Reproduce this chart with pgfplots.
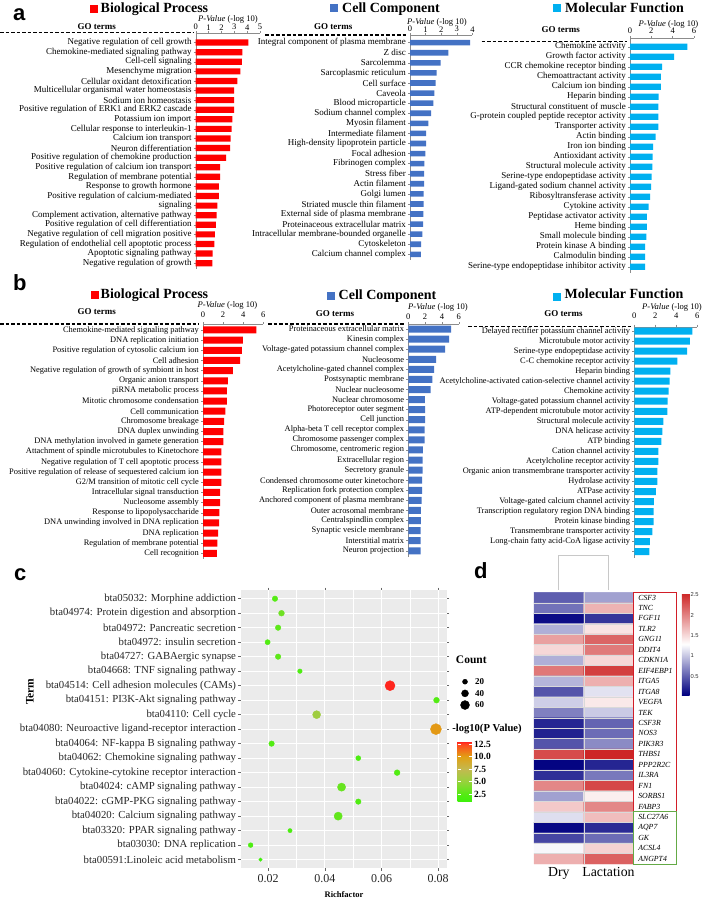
\documentclass[border=0pt]{standalone}
\usepackage{fontspec}
\setmainfont{Liberation Serif}
\setsansfont{Liberation Sans}
\usepackage{pgfplots}
\usepackage{pgfplotstable}
\pgfplotsset{compat=1.18}
\pgfplotsset{/pgf/number format/assume math mode=true}

\definecolor{bpred}{RGB}{255,0,0}
\definecolor{ccblue}{RGB}{68,114,196}
\definecolor{mfcyan}{RGB}{0,176,240}
\definecolor{axgray}{RGB}{140,140,140}
\definecolor{ggbg}{RGB}{235,235,235}
\definecolor{boxred}{RGB}{210,30,40}
\definecolor{boxgreen}{RGB}{100,170,70}
\definecolor{dendro}{RGB}{200,200,200}

\newcommand{\fs}[1]{\fontsize{#1}{#1}\selectfont}

\pgfplotsset{
  gopanel/.style={
    scale only axis, anchor=north west, y dir=reverse,
    axis x line*=top, axis y line*=left,
    axis line style={draw=axgray, line width=0.4pt},
    tick style={draw=axgray, line width=0.4pt},
    tick align=outside, major tick length=2pt,
    xmin=0,
    xticklabel style={font=\fs{8.5}, inner sep=0.8pt},
    yticklabel style={inner sep=2pt},
  }
}

% ---------- panel a data ----------
\pgfplotstableread[col sep=semicolon]{
label;val
Negative regulation of cell growth;4.09
Chemokine-mediated signaling pathway;3.63
Cell-cell signaling;3.60
Mesenchyme migration;3.47
Cellular oxidant detoxification;3.24
Multicellular organismal water homeostasis;2.99
Sodium ion homeostasis;2.98
Positive regulation of ERK1 and ERK2 cascade;2.98
Potassium ion import;2.85
Cellular response to interleukin-1;2.80
Calcium ion transport;2.72
Neuron differentiation;2.67
Positive regulation of chemokine production;2.36
Positive regulation of calcium ion transport;1.89
Regulation of membrane potential;1.89
Response to growth hormone;1.81
Positive regulation of calcium-mediated;1.81
signaling;1.68
Complement activation, alternative pathway;1.63
Positive regulation of cell differentiation;1.56
Negative regulation of cell migration positive;1.50
Regulation of endothelial cell apoptotic process;1.45
Apoptotic signaling pathway;1.32
Negative regulation of growth;1.29
}\aBP

\pgfplotstableread[col sep=semicolon]{
label;val
Integral component of plasma membrane;3.85
Z disc;2.46
Sarcolemma;1.97
Sarcoplasmic reticulum;1.71
Cell surface;1.64
Caveola;1.56
Blood microparticle;1.50
Sodium channel complex;1.35
Myosin filament;1.17
Intermediate filament;1.03
High-density lipoprotein particle;1.03
Focal adhesion;0.98
Fibrinogen complex;0.92
Stress fiber;0.90
Actin filament;0.90
Golgi lumen;0.88
Striated muscle thin filament;0.88
External side of plasma membrane;0.86
Proteinaceous extracellular matrix;0.84
Intracellular membrane-bounded organelle;0.80
Cytoskeleton;0.71
Calcium channel complex;0.69
}\aCC

\pgfplotstableread[col sep=semicolon]{
label;val
Chemokine activity;5.38
Growth factor activity;4.13
CCR chemokine receptor binding;3.00
Chemoattractant activity;2.90
Calcium ion binding;2.90
Heparin binding;2.69
Structural constituent of muscle;2.66
G-protein coupled peptide receptor activity;2.66
Transporter activity;2.66
Actin binding;2.41
Iron ion binding;2.16
Antioxidant activity;2.13
Structural molecule activity;2.10
Serine-type endopeptidase activity;2.03
Ligand-gated sodium channel activity;1.97
Ribosyltransferase activity;1.88
Cytokine activity;1.75
Peptidase activator activity;1.59
Heme binding;1.59
Small molecule binding;1.53
Protein kinase A binding;1.41
Calmodulin binding;1.41
Serine-type endopeptidase inhibitor activity;1.41
}\aMF

% ---------- panel b data ----------
\pgfplotstableread[col sep=semicolon]{
label;val
Chemokine-mediated signaling pathway;5.30
DNA replication initiation;3.97
Positive regulation of cytosolic calcium ion;3.87
Cell adhesion;3.70
Negative regulation of growth of symbiont in host;2.98
Organic anion transport;2.47
piRNA metabolic process;2.37
Mitotic chromosome condensation;2.37
Cell communication;2.23
Chromosome breakage;2.10
DNA duplex unwinding;2.03
DNA methylation involved in gamete generation;2.03
Attachment of spindle microtubules to Kinetochore;1.83
Negative regulation of T cell apoptotic process;1.83
Positive regulation of release of sequestered calcium ion;1.83
G2/M transition of mitotic cell cycle;1.83
Intracellular signal transduction;1.70
Nucleosome assembly;1.70
Response to lipopolysaccharide;1.63
DNA unwinding involved in DNA replication;1.60
DNA replication;1.50
Regulation of membrane potential;1.43
Cell recognition;1.37
}\bBP

\pgfplotstableread[col sep=semicolon]{
label;val
Proteinaceous extracellular matrix;5.10
Kinesin complex;4.85
Voltage-gated potassium channel complex;4.37
Nucleosome;3.30
Acetylcholine-gated channel complex;3.06
Postsynaptic membrane;2.86
Nuclear nucleosome;2.66
Nuclear chromosome;1.98
Photoreceptor outer segment;2.00
Cell junction;2.00
Alpha-beta T cell receptor complex;1.94
Chromosome passenger complex;1.94
Chromosome, centromeric region;1.74
Extracellular region;1.70
Secretory granule;1.70
Condensed chromosome outer kinetochore;1.66
Replication fork protection complex;1.66
Anchored component of plasma membrane;1.58
Outer acrosomal membrane;1.50
Centralspindlin complex;1.50
Synaptic vesicle membrane;1.46
Interstitial matrix;1.46
Neuron projection;1.46
}\bCC

\pgfplotstableread[col sep=semicolon]{
label;val
Delayed rectifier potassium channel activity;5.53
Microtubule motor activity;5.30
Serine-type endopeptidase activity;5.02
C-C chemokine receptor activity;4.10
Heparin binding;3.43
Acetylcholine-activated cation-selective channel activity;3.36
Chemokine activity;3.27
Voltage-gated potassium channel activity;3.17
ATP-dependent microtubule motor activity;3.14
Structural molecule activity;2.76
DNA helicase activity;2.67
ATP binding;2.57
Cation channel activity;2.29
Acetylcholine receptor activity;2.29
Organic anion transmembrane transporter activity;2.19
Hydrolase activity;2.19
ATPase activity;2.06
Voltage-gated calcium channel activity;1.87
Transcription regulatory region DNA binding;1.84
Protein kinase binding;1.84
Transmembrane transporter activity;1.71
Long-chain fatty acid-CoA ligase activity;1.49
{};1.43
}\bMF

% ---------- panel c data ----------
\pgfplotstableread[col sep=semicolon]{
label;rf;count;logp
bta05032: Morphine addiction;0.0224;25;2.5
bta04974: Protein digestion and absorption;0.0247;28;3.5
bta04972: Pancreatic secretion;0.0235;25;2.8
bta04972: insulin secretion;0.0198;22;2.3
bta04727: GABAergic synapse;0.0235;25;2.8
bta04668: TNF signaling pathway;0.0312;15;2.0
bta04514: Cell adhesion molecules (CAMs);0.0630;70;12.9
bta04151: PI3K-Akt signaling pathway;0.0794;28;2.4
bta04110: Cell cycle;0.0371;50;5.5
bta04080: Neuroactive ligand-receptor interaction;0.0792;80;10.2
bta04064: NF-kappa B signaling pathway;0.0212;25;2.3
bta04062: Chemokine signaling pathway;0.0518;20;2.0
bta04060: Cytokine-cytokine receptor interaction;0.0655;28;2.3
bta04024: cAMP signaling pathway;0.0459;52;3.2
bta04022: cGMP-PKG signaling pathway;0.0518;25;2.2
bta04020: Calcium signaling pathway;0.0447;52;3.0
bta03320: PPAR signaling pathway;0.0277;12;1.8
bta03030: DNA replication;0.0138;18;2.0
bta00591:Linoleic acid metabolism;0.0173;5;1.2
}\keggtbl

% ---------- panel d data ----------
\pgfplotstableread{
x y v
0 1 0.50
1 1 0.83
0 2 0.60
1 2 1.73
0 3 0.10
1 3 0.30
0 4 0.90
1 4 1.45
0 5 1.84
1 5 2.18
0 6 1.52
1 6 2.06
0 7 0.90
1 7 1.52
0 8 2.07
1 8 2.40
0 9 0.93
1 9 1.75
0 10 0.45
1 10 1.15
0 11 1.05
1 11 1.42
0 12 0.67
1 12 1.03
0 13 0.22
1 13 0.53
0 14 0.20
1 14 0.57
0 15 0.45
1 15 0.72
0 16 2.32
1 16 2.54
0 17 0.06
1 17 0.22
0 18 0.27
1 18 0.63
0 19 1.98
1 19 2.35
0 20 0.83
1 20 1.38
0 21 1.60
1 21 1.98
0 22 1.13
1 22 1.67
0 23 0.08
1 23 0.25
0 24 0.38
1 24 0.57
0 25 1.25
1 25 1.55
0 26 1.75
1 26 2.20
}\heattbl

\begin{document}
\begin{tikzpicture}
\path[use as bounding box] (0pt,0pt) rectangle (703pt,-899pt);

% ===== a: Biological Process =====
\begin{axis}[gopanel, at={(195.7pt,-33pt)}, width=64.3pt, height=235.9pt,
  xmax=5, xtick={0,...,5}, ymin=0, ymax=24.6, ytick={1,...,24},
  yticklabels from table={\aBP}{label}, yticklabel style={font=\fs{9}}]
\addplot[xbar, fill=bpred, draw=none, bar width=6.2pt] table[x=val, y expr=\coordindex+1]{\aBP};
\end{axis}
% ===== a: Cell Component =====
\begin{axis}[gopanel, at={(410pt,-35pt)}, width=62.4pt, height=225.4pt,
  xmax=4, xtick={0,...,4}, ymin=0.24, ymax=22.6, ytick={1,...,22},
  yticklabels from table={\aCC}{label}, yticklabel style={font=\fs{9}}]
\addplot[xbar, fill=ccblue, draw=none, bar width=5.6pt] table[x=val, y expr=\coordindex+1]{\aCC};
\end{axis}
% ===== a: Molecular Function =====
\begin{axis}[gopanel, at={(630pt,-38pt)}, width=64pt, height=234.7pt,
  xmax=6, xtick={0,2,4,6}, ymin=0.13, ymax=23.6, ytick={1,...,23},
  xticklabel style={yshift=1.4pt},
  yticklabels from table={\aMF}{label}, yticklabel style={font=\fs{9}}]
\addplot[xbar, fill=mfcyan, draw=none, bar width=6.4pt] table[x=val, y expr=\coordindex+1]{\aMF};
\end{axis}

% ===== b: Biological Process =====
\begin{axis}[gopanel, at={(203pt,-324pt)}, width=60.3pt, height=235.4pt,
  xmax=6, xtick={0,2,4,6}, ymin=0.41, ymax=23.6, ytick={1,...,23},
  xticklabel style={yshift=3.4pt},
  yticklabels from table={\bBP}{label}, yticklabel style={font=\fs{8.4}}]
\addplot[xbar, fill=bpred, draw=none, bar width=7pt] table[x=val, y expr=\coordindex+1]{\bBP};
\end{axis}
% ===== b: Cell Component =====
\begin{axis}[gopanel, at={(408.3pt,-324pt)}, width=50.4pt, height=232.8pt,
  xmax=6, xtick={0,2,4,6}, ymin=0.5, ymax=23.6, ytick={1,...,23},
  xticklabel style={yshift=1.8pt},
  yticklabels from table={\bCC}{label}, yticklabel style={font=\fs{8.4}}]
\addplot[xbar, fill=ccblue, draw=none, bar width=7pt] table[x=val, y expr=\coordindex+1]{\bCC};
\end{axis}
% ===== b: Molecular Function =====
\begin{axis}[gopanel, at={(634.3pt,-326.7pt)}, width=63pt, height=231pt,
  xmax=6, xtick={0,2,4,6}, ymin=0.57, ymax=23.6, ytick={1,...,23},
  xticklabel style={yshift=5.5pt},
  yticklabels from table={\bMF}{label}, yticklabel style={font=\fs{8.4}}]
\addplot[xbar, fill=mfcyan, draw=none, bar width=7pt] table[x=val, y expr=\coordindex+1]{\bMF};
\end{axis}

% ===== c: KEGG dot plot =====
\begin{axis}[scale only axis, anchor=north west, at={(240.7pt,-590pt)},
  width=206pt, height=278.3pt,
  xmin=0.0103, xmax=0.083, ymin=0.4, ymax=19.6, y dir=reverse,
  scaled x ticks=false,
  axis background/.style={fill=ggbg}, axis line style={draw=none},
  xtick={0.02,0.04,0.06,0.08}, xticklabels={0.02,0.04,0.06,0.08},
  minor xtick={0.03,0.05,0.07},
  ytick={1,...,19}, yticklabels from table={\keggtbl}{label},
  xmajorgrids, ymajorgrids, xminorgrids,
  major grid style={white, line width=1pt}, minor grid style={white, line width=0.5pt},
  tick align=outside, major tick length=2.5pt, minor tick length=0pt,
  tick style={draw=black!60, line width=0.5pt},
  xticklabel style={font=\fs{12}, text=black!85},
  yticklabel style={font=\fs{10.75}, text=black!85, inner sep=2pt},
  colormap={kegg}{rgb255(0cm)=(60,240,10); rgb255(1.55cm)=(85,235,20); rgb255(4.05cm)=(150,210,60); rgb255(6.55cm)=(195,185,80); rgb255(9.05cm)=(225,160,20); rgb255(11.55cm)=(255,70,30); rgb255(12.05cm)=(255,30,30)},
  point meta min=0.95, point meta max=13,
  colorbar,
  colorbar style={scale only axis, width=14.7pt, height=60pt,
    at={(parent axis.north east)}, anchor=north west, xshift=2.5pt, yshift=-151.7pt,
    ytick={2.5,5,7.5,10,12.5}, yticklabels={2.5,5.0,7.5,10.0,12.5},
    yticklabel style={font=\bfseries\fs{9.5}, inner sep=1.5pt},
    axis line style={draw=none}, major tick length=3pt,
    tick style={draw=white, line width=0.6pt}, tick align=inside},
  clip=false]
\addplot[scatter, only marks, mark=*,
  point meta=\thisrow{logp},
  scatter/use mapped color={draw=mapped color, fill=mapped color},
  visualization depends on={1.5+\thisrow{count}/20 \as \perpointmarksize},
  scatter/@pre marker code/.append style={/tikz/mark size=\perpointmarksize}]
  table[x=rf, y expr=\coordindex+1]{\keggtbl};
\end{axis}

% Count legend
\begin{axis}[scale only axis, hide axis, anchor=north west, at={(455pt,-675.9pt)},
  width=20pt, height=34.95pt, xmin=-1, xmax=1, ymin=0.5, ymax=3.5, y dir=reverse, clip=false]
\addplot[only marks, mark=*, black, mark size=2.5pt] coordinates {(0,1)};
\addplot[only marks, mark=*, black, mark size=3.5pt] coordinates {(0,2)};
\addplot[only marks, mark=*, black, mark size=4.5pt] coordinates {(0,3)};
\end{axis}

% ===== d: heatmap =====
\begin{axis}[scale only axis, anchor=north west, at={(534pt,-592.3pt)},
  width=99.3pt, height=271.7pt,
  xmin=-0.5, xmax=1.5, ymin=0.5, ymax=26.5, y dir=reverse,
  axis on top,
  axis line style={draw=none}, tick style={draw=none}, major tick length=0pt, minor tick length=0pt,
  xtick={0,1}, xticklabels={Dry,Lactation}, xticklabel style={font=\fs{13.8}},
  minor xtick={0.5}, minor ytick={1.5,2.5,...,25.5},
  xminorgrids, yminorgrids, minor grid style={draw=gray!30, line width=0.3pt},
  ytick={1,...,26},
  yticklabels={CSF3,TNC,FGF11,TLR2,GNG11,DDIT4,CDKN1A,EIF4EBP1,ITGA5,ITGA8,VEGFA,TEK,CSF3R,NOS3,PIK3R3,THBS1,PPP2R2C,IL3RA,FN1,SORBS1,FABP3,SLC27A6,AQP7,GK,ACSL4,ANGPT4},
  yticklabel pos=right, yticklabel style={font=\itshape\fs{7.8}, anchor=west, xshift=1.5pt},
  colormap={heat}{rgb255(0cm)=(0,0,128); rgb255(1.25cm)=(255,255,255); rgb255(2.5cm)=(205,38,38)},
  point meta min=0.04, point meta max=2.54,
  colorbar,
  colorbar style={scale only axis, width=7.7pt, height=101.7pt,
    at={(parent axis.north east)}, anchor=north west, xshift=40pt, yshift=-1pt,
    ytick={0.5,1,1.5,2,2.5}, yticklabels={0.5,1,1.5,2,2.5},
    major tick length=0pt, minor tick length=0pt,
    yticklabel style={font=\sffamily\fs{5.8}, anchor=west, xshift=0pt, inner sep=0.8pt, text=black!80},
    axis line style={draw=none}, tick style={draw=none}},
  clip=false]
\addplot[matrix plot*, mesh/cols=2, point meta=explicit] table[x=x, y=y, meta=v]{\heattbl};
\addplot[dendro, line width=0.9pt] coordinates {(0,0.28) (0,-3.07) (1,-3.07) (1,0.28)};
\draw[boxred, line width=1pt] (axis cs:1.5,0.5) rectangle (axis cs:2.37,21.5);
\draw[boxgreen, line width=1pt] (axis cs:1.5,21.5) rectangle (axis cs:2.37,26.5);
\end{axis}

\begin{scope}[x=1pt,y=-1pt]
% panel letters
\node[anchor=base west, inner sep=0, font=\sffamily\bfseries\fs{22}] at (13,21) {a};
\node[anchor=base west, inner sep=0, font=\sffamily\bfseries\fs{22}] at (13,290) {b};
\node[anchor=base west, inner sep=0, font=\sffamily\bfseries\fs{22}] at (14,580) {c};
\node[anchor=base west, inner sep=0, font=\sffamily\bfseries\fs{22}] at (474,578) {d};
% titles a
\fill[bpred] (90,5) rectangle (98,13);
\node[anchor=base west, inner sep=0, font=\bfseries\fs{14}] at (100.5,12.5) {Biological Process};
\fill[ccblue] (330,4.5) rectangle (338,12.5);
\node[anchor=base west, inner sep=0, font=\bfseries\fs{14}] at (342,12.5) {Cell Component};
\fill[mfcyan] (553,4.5) rectangle (561,12.5);
\node[anchor=base west, inner sep=0, font=\bfseries\fs{14}] at (565,12.5) {Molecular Function};
% titles b
\fill[bpred] (90.7,290.5) rectangle (98.7,298.5);
\node[anchor=base west, inner sep=0, font=\bfseries\fs{14}] at (100.5,298) {Biological Process};
\fill[ccblue] (326.7,292) rectangle (334.7,300);
\node[anchor=base west, inner sep=0, font=\bfseries\fs{14}] at (338.5,299.5) {Cell Component};
\fill[mfcyan] (552.7,293) rectangle (560.7,301);
\node[anchor=base west, inner sep=0, font=\bfseries\fs{14}] at (564.5,298.5) {Molecular Function};
% GO terms
\node[font=\bfseries\fs{9}] at (96.7,27) {GO terms};
\node[font=\bfseries\fs{9}] at (333.3,27) {GO terms};
\node[font=\bfseries\fs{9}] at (560.8,29.3) {GO terms};
\node[font=\bfseries\fs{9}] at (96.7,311.7) {GO terms};
\node[font=\bfseries\fs{9}] at (335,314) {GO terms};
\node[font=\bfseries\fs{9}] at (563.5,313.3) {GO terms};
% dashed lines
\begin{scope}[line width=1.3pt, dash pattern=on 3.5pt off 2pt]
\draw (0,32.5) -- (193,32.5);
\draw (265,35) -- (406.7,35);
\draw (481.7,41.7) -- (626.7,41.7);
\draw (0,324) -- (199,324);
\draw (268,324) -- (404,324);
\draw (468,326.7) -- (631.5,326.7);
\end{scope}
% P-Value labels
\node[font=\fs{8.6}] at (228,19) {\textit{P-Value} (-log 10)};
\node[font=\fs{8.6}] at (437,22.7) {\textit{P-Value} (-log 10)};
\node[font=\fs{8.6}] at (668.5,24.3) {\textit{P-Value} (-log 10)};
\node[font=\fs{8.6}] at (227.5,305) {\textit{P-Value} (-log 10)};
\node[font=\fs{8.6}] at (438,307.7) {\textit{P-Value} (-log 10)};
\node[font=\fs{8.6}] at (672,307.7) {\textit{P-Value} (-log 10)};
% panel c labels
\node[rotate=90, font=\bfseries\fs{11.5}] at (30,691.7) {Term};
\node[font=\bfseries\fs{8.5}] at (344,895) {Richfactor};
\node[font=\bfseries\fs{11.5}] at (471.3,660) {Count};
\node[anchor=west, inner sep=0, font=\bfseries\fs{9}] at (475,681.7) {20};
\node[anchor=west, inner sep=0, font=\bfseries\fs{9}] at (475,693.3) {40};
\node[anchor=west, inner sep=0, font=\bfseries\fs{9}] at (475,705) {60};
\node[font=\bfseries\fs{10.6}] at (487,729.3) {-log10(P Value)};
\end{scope}
\end{tikzpicture}
\end{document}
